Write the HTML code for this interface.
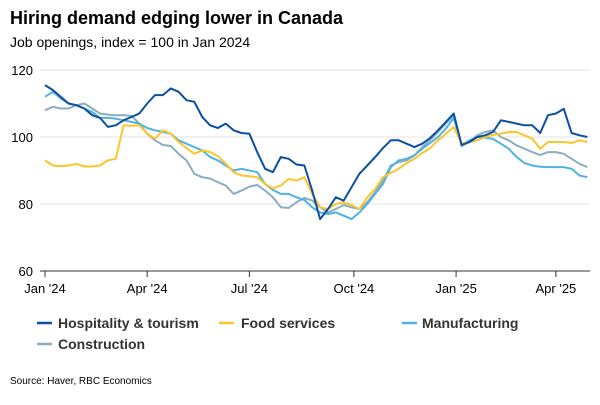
<!DOCTYPE html>
<html><head><meta charset="utf-8"><style>
body{margin:0;background:#fff;width:600px;height:400px;overflow:hidden;font-family:"Liberation Sans",Arial,sans-serif}
</style></head><body>
<svg width="600" height="400" viewBox="0 0 600 400" xmlns="http://www.w3.org/2000/svg">
<text x="10" y="24" font-size="18" font-weight="bold" fill="#000">Hiring demand edging lower in Canada</text>
<text x="10" y="47" font-size="14" fill="#000">Job openings, index = 100 in Jan 2024</text>
<g id="grid"></g>
<g id="yaxis"></g>
<g id="xaxis"></g>
<g id="series"></g>
<g>
<g><line x1="37" y1="323" x2="52" y2="323" stroke="#0a4fa3" stroke-width="2.5"/><text x="58" y="328" font-size="14" font-weight="bold" fill="#333">Hospitality &amp; tourism</text></g>
<g><line x1="219" y1="323" x2="234" y2="323" stroke="#fcc52b" stroke-width="2.5"/><text x="241" y="328" font-size="14" font-weight="bold" fill="#333">Food services</text></g>
<g><line x1="402" y1="323" x2="417" y2="323" stroke="#4fb2df" stroke-width="2.5"/><text x="422" y="328" font-size="14" font-weight="bold" fill="#333">Manufacturing</text></g>
<g><line x1="37" y1="344" x2="52" y2="344" stroke="#8aaebf" stroke-width="2.5"/><text x="58" y="349" font-size="14" font-weight="bold" fill="#333">Construction</text></g>
</g>
<text x="10" y="384" font-size="10" fill="#000">Source: Haver, RBC Economics</text>
</svg>
<script>
const yTicks=[60,80,100,120];
const xTickLabels=["Jan '24","Apr '24","Jul '24","Oct '24","Jan '25","Apr '25"];
const xTickWeeks=[0,13,26,39.3,52.3,65];
const hospitality=[115.5,114,112,110,109.5,108.5,106.5,105.7,103,103.5,105,106,107,110,112.5,112.5,114.5,113.5,111,110.5,106,103.5,102.7,104,102,101.2,101,95.5,90.5,89.5,94,93.5,91.8,91.5,84,75.5,78.5,82,81,85,89,91.5,94,96.7,99,99,98,97,98,99.7,102,104.5,107,97.6,98.5,100,100.5,101.5,105,104.5,104,103.5,103.5,101.2,106.5,107,108.4,101.2,100.5,100];
const foodServices=[93,91.5,91.3,91.5,92,91.2,91.2,91.5,93,93.5,103.5,103.3,103.5,101,99.5,102,101,98.5,96.7,95,96,95.5,94.3,92,89.5,88.5,88.3,88,86,84.7,85.5,87.5,87,88,83,79,78.5,80,80.5,79.7,78.5,82,84.5,88,89.3,90.5,92.2,93.5,95.2,96.7,99,101,103,98,98.5,99,100,100.6,101,101.5,101.5,100.5,99.5,96.5,98.5,98.5,98.5,98.2,99,98.5];
const manufacturing=[112,113.5,111.5,110,109.5,108.5,107.5,105.7,105.7,105.5,105,104.5,104,102.7,102,101.5,101,99,98,97,96,94,93,91.5,90,90.5,90,89.5,86,84.2,83,83,82,81.2,79,77.5,77,77.5,76.5,75.5,77.5,80,83,86,91,93,93.5,94.5,96.5,98.2,100,102.5,105.7,97.6,99,100,99.8,99.4,98,96.5,94,92.2,91.5,91.1,91,91,91,90.5,88.5,88];
const construction=[108,109,108.5,108.5,109.5,110,108.5,107,106.7,106.5,106.5,106.3,104,101,99,97.6,97.3,95,93,89,88,87.6,86.5,85.5,83,84,85.2,85.7,84,82,79,78.8,80.5,81.8,81,79,77.5,78.5,79.7,79,78.5,80.5,83.5,87,91.5,92.5,93,94.5,97,99.1,101.5,104,106.6,97.3,98.5,100.5,101.5,102,100,99,97.5,96.5,95.5,94.6,95.5,95.5,95,93.5,92,91];
const NS="http://www.w3.org/2000/svg";
function xS(w){return 45+w*7.86;}
function yS(v){return 271-(v-60)*(201/60);}
const grid=document.getElementById('grid'),ya=document.getElementById('yaxis'),xa=document.getElementById('xaxis'),sg=document.getElementById('series');
yTicks.forEach(t=>{
 if(t>60){const l=document.createElementNS(NS,'line');
 
 
 l.setAttribute('x1',40);l.setAttribute('x2',590);l.setAttribute('y1',yS(t));l.setAttribute('y2',yS(t));l.setAttribute('stroke','#e3e3e3');l.setAttribute('stroke-width','1');grid.appendChild(l);}
 const tx=document.createElementNS(NS,'text');
 
 
 tx.setAttribute('x',33);tx.setAttribute('y',yS(t)+5);tx.setAttribute('text-anchor','end');tx.setAttribute('font-size','13');tx.setAttribute('fill','#000');tx.textContent=t;ya.appendChild(tx);
});
const ax=document.createElementNS(NS,'line');


ax.setAttribute('x1',40);ax.setAttribute('x2',590);ax.setAttribute('y1',271);ax.setAttribute('y2',271);ax.setAttribute('stroke','#333');ax.setAttribute('stroke-width','1');xa.appendChild(ax);
xTickWeeks.forEach((w,i)=>{
 const x=xS(w);
 const tk=document.createElementNS(NS,'line');
 
 
 tk.setAttribute('x1',x);tk.setAttribute('x2',x);tk.setAttribute('y1',271);tk.setAttribute('y2',277);tk.setAttribute('stroke','#333');xa.appendChild(tk);
 const tx=document.createElementNS(NS,'text');
 
 
 tx.setAttribute('x',x);tx.setAttribute('y',293);tx.setAttribute('text-anchor','middle');tx.setAttribute('font-size','13');tx.setAttribute('fill','#000');tx.textContent=xTickLabels[i];xa.appendChild(tx);
});
[[construction,'#8aaebf','line-construction'],[manufacturing,'#4fb2df','line-manufacturing'],[foodServices,'#fcc52b','line-food-services'],[hospitality,'#0a4fa3','line-hospitality']].forEach(([d,c,n])=>{
 const p=document.createElementNS(NS,'path');
 
 
 p.setAttribute('d',d.map((v,i)=>(i?'L':'M')+xS(i).toFixed(1)+','+yS(v).toFixed(1)).join(''));
 p.setAttribute('fill','none');p.setAttribute('stroke',c);p.setAttribute('stroke-width','2');p.setAttribute('stroke-linejoin','round');sg.appendChild(p);
});
</script>
</body></html>
